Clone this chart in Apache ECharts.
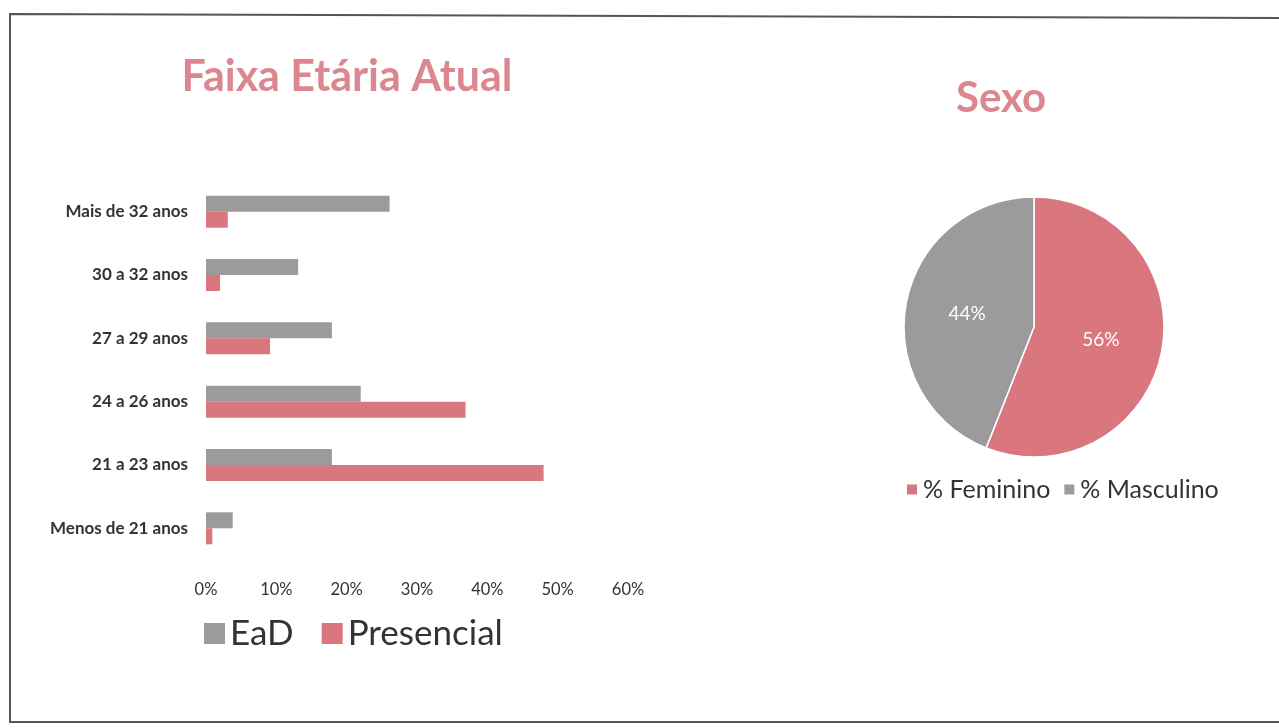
<!DOCTYPE html>
<html>
<head>
<meta charset="utf-8">
<script src="https://cdn.jsdelivr.net/npm/echarts@6/dist/echarts.min.js"></script>
<style>
  html, body { margin: 0; padding: 0; background: #fff; }
  #chart { width: 1279px; height: 728px; }
</style>
</head>
<body>
<div id="chart"></div>
<script>
// faixa etária (de baixo para cima no eixo)
const faixas = ['Menos de 21 anos', '21 a 23 anos', '24 a 26 anos', '27 a 29 anos', '30 a 32 anos', 'Mais de 32 anos']
const ead = [3.8, 17.9, 22.0, 17.9, 13.1, 26.1]
const presencial = [0.9, 48.0, 36.9, 9.1, 2.0, 3.1]

// sexo
const sexoNomes = ['% Feminino', '% Masculino']
const sexoValores = [56, 44]

const cinza = '#9b9b9b'
const vermelho = '#d9767e'
const rosaTitulo = '#dc8790'
const fonte = 'Lato, "Open Sans", sans-serif'

const chart = echarts.init(document.getElementById('chart'))

chart.setOption({
  backgroundColor: '#fff',
  textStyle: { fontFamily: fonte },
  title: [
    {
      text: 'Faixa Etária Atual',
      left: 342, top: 51, textAlign: 'center',
      textStyle: { color: rosaTitulo, fontSize: 43, fontWeight: 'bold', fontFamily: fonte }
    },
    {
      text: 'Sexo',
      left: 996, top: 72, textAlign: 'center',
      textStyle: { color: rosaTitulo, fontSize: 42, fontWeight: 'bold', fontFamily: fonte }
    }
  ],
  legend: [
    {
      data: ['EaD', 'Presencial'],
      left: 199, top: 611,
      itemWidth: 21, itemHeight: 21, itemGap: 28,
      icon: 'rect',
      textStyle: { fontSize: 35, color: '#333', fontFamily: fonte }
    },
    {
      data: sexoNomes,
      left: 900, top: 472,
      itemWidth: 12, itemHeight: 12, itemGap: 12,
      icon: 'rect',
      textStyle: { fontSize: 25, color: '#333', fontFamily: fonte }
    }
  ],
  grid: { left: 206, width: 422, top: 180, height: 380, containLabel: false },
  xAxis: {
    type: 'value', min: 0, max: 60, interval: 10,
    axisLine: { show: false }, axisTick: { show: false },
    splitLine: { show: false },
    axisLabel: { formatter: '{value}%', fontSize: 16.5, color: '#333', margin: 21 }
  },
  yAxis: {
    type: 'category', data: faixas,
    axisLine: { show: false }, axisTick: { show: false },
    axisLabel: { fontSize: 17, fontWeight: 'bold', color: '#333', margin: 18 }
  },
  series: [
    {
      name: 'EaD', type: 'bar', data: ead,
      barWidth: 16, barGap: '0%',
      itemStyle: { color: cinza }
    },
    {
      name: 'Presencial', type: 'bar', data: presencial,
      barWidth: 16, barGap: '0%',
      itemStyle: { color: vermelho }
    },
    {
      name: 'Sexo', type: 'pie',
      center: [1034, 327], radius: 130,
      startAngle: 90, clockwise: true,
      data: sexoNomes.map((n, i) => ({
        name: n, value: sexoValores[i],
        itemStyle: { color: i === 0 ? vermelho : cinza }
      })),
      itemStyle: { borderColor: '#fff', borderWidth: 1.5 },
      label: {
        position: 'inside', formatter: '{c}%',
        color: '#fff', fontSize: 19
      },
      labelLine: { show: false },
      emphasis: { disabled: true }
    }
  ],
  graphic: [
    {
      type: 'polyline',
      shape: { points: [[1279, 18], [10, 14], [10, 722], [1279, 722]] },
      style: { stroke: '#555', lineWidth: 2, fill: null },
      silent: true
    }
  ]
})
</script>
</body>
</html>
